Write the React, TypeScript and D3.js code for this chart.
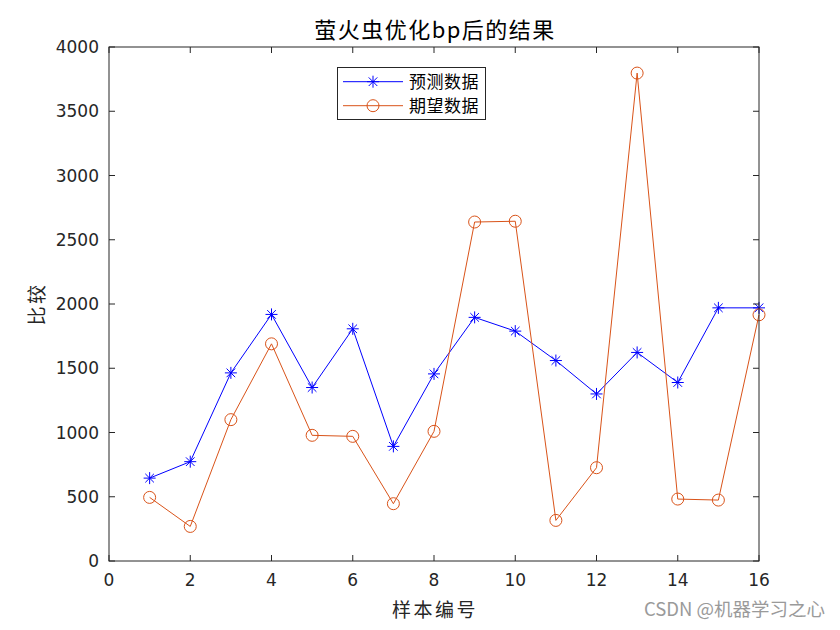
import React from "react";
import * as d3 from "d3";

const samples = [1, 2, 3, 4, 5, 6, 7, 8, 9, 10, 11, 12, 13, 14, 15, 16];
const predicted = [645, 773, 1464, 1919, 1350, 1807, 892, 1456, 1896, 1789, 1560, 1300, 1623, 1389, 1970, 1970];
const expected = [495, 269, 1100, 1690, 978, 970, 446, 1009, 2638, 2644, 316, 726, 3797, 482, 474, 1916];
const xTicks = [0, 2, 4, 6, 8, 10, 12, 14, 16];
const yTicks = [0, 500, 1000, 1500, 2000, 2500, 3000, 3500, 4000];
const seriesNames = ["预测数据", "期望数据"];
const title = "萤火虫优化bp后的结果";
const xLabel = "样本编号";
const yLabel = "比较";
const watermark = "CSDN @机器学习之心";

const W = 840, H = 630;
const L = 109, R = 759, T = 47, B = 561;
const BLUE = "#0000ff";
const ORANGE = "#D95319";
const CJK = "'Noto Sans CJK SC', sans-serif";
const NUM = "'DejaVu Sans', sans-serif";

function Star({ x, y, c }: { x: number; y: number; c: string }) {
  const r = 6, d = 4.3;
  return (
    <g stroke={c} strokeWidth={1} fill="none">
      <line x1={x - r} y1={y} x2={x + r} y2={y} />
      <line x1={x} y1={y - r} x2={x} y2={y + r} />
      <line x1={x - d} y1={y - d} x2={x + d} y2={y + d} />
      <line x1={x - d} y1={y + d} x2={x + d} y2={y - d} />
    </g>
  );
}

export default function App() {
  const x = d3.scaleLinear().domain([0, 16]).range([L, R]);
  const y = d3.scaleLinear().domain([0, 4000]).range([B, T]);
  const line = d3.line<number>().x((_, i) => x(samples[i])).y((d) => y(d));
  const tl = 6;
  return (
    <svg width={W} height={H} style={{ position: "absolute", left: 0, top: 0, background: "#fff" }}>
      <rect x={0} y={0} width={W} height={H} fill="#fff" />
      <rect x={L} y={T} width={R - L} height={B - T} fill="#fff" />
      {/* data */}
      <path d={line(predicted) || ""} fill="none" stroke={BLUE} strokeWidth={1} />
      <path d={line(expected) || ""} fill="none" stroke={ORANGE} strokeWidth={1} />
      {predicted.map((v, i) => (
        <Star key={"p" + i} x={x(samples[i])} y={y(v)} c={BLUE} />
      ))}
      {expected.map((v, i) => (
        <circle key={"e" + i} cx={x(samples[i])} cy={y(v)} r={6} fill="none" stroke={ORANGE} strokeWidth={1} />
      ))}
      {/* axes box */}
      <rect x={L} y={T} width={R - L} height={B - T} fill="none" stroke="#262626" strokeWidth={1} />
      {xTicks.map((t) => (
        <g key={"xt" + t}>
          <line x1={x(t)} x2={x(t)} y1={B} y2={B - tl} stroke="#262626" />
          <line x1={x(t)} x2={x(t)} y1={T} y2={T + tl} stroke="#262626" />
          <text x={x(t)} y={B + 25} textAnchor="middle" fontFamily={NUM} fontSize={17} fill="#262626">{t}</text>
        </g>
      ))}
      {yTicks.map((t) => (
        <g key={"yt" + t}>
          <line x1={L} x2={L + tl} y1={y(t)} y2={y(t)} stroke="#262626" />
          <line x1={R} x2={R - tl} y1={y(t)} y2={y(t)} stroke="#262626" />
          <text x={L - 10} y={y(t) + 6} textAnchor="end" fontFamily={NUM} fontSize={17} fill="#262626">{t}</text>
        </g>
      ))}
      {/* labels */}
      <text x={(L + R) / 2 + 1} y={38} textAnchor="middle" fontFamily={CJK} fontSize={22} letterSpacing={1.5} fill="#000">{title}</text>
      <text x={(L + R) / 2 + 1} y={617} textAnchor="middle" fontFamily={CJK} fontSize={19} letterSpacing={2.5} fill="#262626">{xLabel}</text>
      <text transform={`translate(44,${(T + B) / 2}) rotate(-90)`} textAnchor="middle" fontFamily={CJK} fontSize={19} letterSpacing={2.5} fill="#262626">{yLabel}</text>
      {/* legend */}
      <rect x={337.5} y={67.5} width={148} height={52} fill="#fff" stroke="#262626" strokeWidth={1} />
      <line x1={343} x2={403} y1={81.7} y2={81.7} stroke={BLUE} />
      <Star x={373} y={81.7} c={BLUE} />
      <text x={409} y={88} fontFamily={CJK} fontSize={17} letterSpacing={0.5} fill="#000">{seriesNames[0]}</text>
      <line x1={343} x2={403} y1={105.7} y2={105.7} stroke={ORANGE} />
      <circle cx={373} cy={105.7} r={6} fill="none" stroke={ORANGE} />
      <text x={409} y={112} fontFamily={CJK} fontSize={17} letterSpacing={0.5} fill="#000">{seriesNames[1]}</text>
      {/* watermark */}
      <text x={825} y={616} textAnchor="end" fontFamily={CJK} fontSize={18.5} fill="#9a9a9a">{watermark}</text>
    </svg>
  );
}
